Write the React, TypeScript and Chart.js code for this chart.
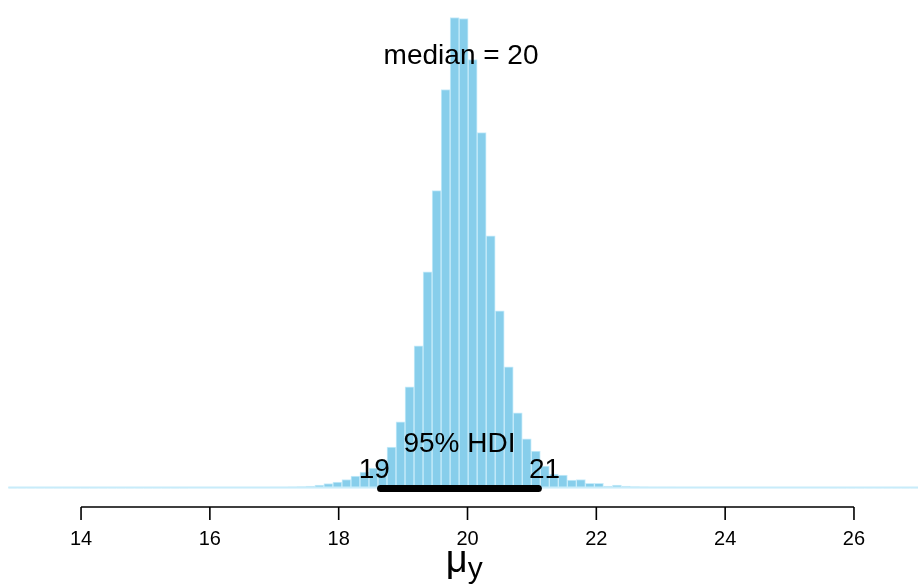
import { useEffect, useRef } from "react";
import { Chart, registerables } from "chart.js";

Chart.register(...registerables);

// Histogram of posterior samples of mu_y (density per bin)
const binStart = 12.87;
const binWidth = 0.14;
const density = [
  0.0005, 0.0005, 0.0005, 0.0005, 0.0005, 0.0005, 0.0005, 0.0005, 0.0005, 0.0005,
  0.0007, 0.0007, 0.0007, 0.0007, 0.0007, 0.0007, 0.0007, 0.0007, 0.0007, 0.0007,
  0.0009, 0.0009, 0.0009, 0.0009, 0.0009, 0.0009,
  0.0013, 0.0013, 0.0013,
  0.0016, 0.0018, 0.0022, 0.0027, 0.0036, 0.0055, 0.0082, 0.0109, 0.0155, 0.0218,
  0.0291, 0.0364, 0.051, 0.0746, 0.1201, 0.1838, 0.2584, 0.3931, 0.5405, 0.7244,
  0.8554, 0.8536, 0.779, 0.6461, 0.4586, 0.3221, 0.2202, 0.1365, 0.0892, 0.0673,
  0.04, 0.0255, 0.0237, 0.0146, 0.0155, 0.0086, 0.0086, 0.0036, 0.0055, 0.0036,
  0.0027, 0.0022, 0.0018, 0.0016, 0.0015, 0.0013,
  0.0011, 0.0011, 0.0011, 0.0011, 0.0011, 0.0011,
  0.0009, 0.0009, 0.0009, 0.0009, 0.0009, 0.0009, 0.0009, 0.0009, 0.0009, 0.0009,
  0.0007, 0.0007, 0.0007, 0.0007, 0.0007, 0.0007, 0.0007, 0.0007, 0.0007, 0.0007, 0.0007,
];
const xTicks = [14, 16, 18, 20, 22, 24, 26];
const xRange = [12.866, 26.994];
const hdi = [18.65, 21.1];
const credMass = 95;
const medianValue = 19.9;

const FONT = '"Liberation Sans", Arial, Helvetica, sans-serif';

const annotPlugin = {
  id: "annot",
  afterDraw(chart: any) {
    const ctx = chart.ctx as CanvasRenderingContext2D;
    const xs = chart.scales.x;
    const ys = chart.scales.y;
    const y0 = ys.getPixelForValue(0);
    ctx.save();

    // baseline of histogram
    const bx0 = xs.getPixelForValue(binStart);
    const bx1 = xs.getPixelForValue(binStart + binWidth * density.length);
    ctx.strokeStyle = "#C8ECFA";
    ctx.lineWidth = 2;
    ctx.beginPath();
    ctx.moveTo(bx0, y0 - 0.5);
    ctx.lineTo(bx1, y0 - 0.5);
    ctx.stroke();

    // HDI bar
    const h0 = xs.getPixelForValue(hdi[0]);
    const h1 = xs.getPixelForValue(hdi[1]);
    ctx.strokeStyle = "#000";
    ctx.lineWidth = 7;
    ctx.lineCap = "round";
    ctx.beginPath();
    ctx.moveTo(h0, y0 + 0.5);
    ctx.lineTo(h1, y0 + 0.5);
    ctx.stroke();

    ctx.fillStyle = "#000";
    ctx.textBaseline = "alphabetic";
    ctx.font = `28px ${FONT}`;
    ctx.textAlign = "center";
    ctx.fillText(`${credMass}% HDI`, (h0 + h1) / 2, y0 - 36);
    const lo = String(Number(hdi[0].toPrecision(2)));
    const hi = String(Number(hdi[1].toPrecision(2)));
    ctx.textAlign = "left";
    const wlo = ctx.measureText(lo).width;
    const whi = ctx.measureText(hi).width;
    ctx.fillText(lo, h0 - 0.7 * wlo, y0 - 10);
    ctx.fillText(hi, h1 - 0.3 * whi, y0 - 10);

    // median label
    ctx.textAlign = "center";
    const mx = xs.getPixelForValue(medianValue);
    ctx.fillText(`median = ${Number(medianValue.toPrecision(2))}`, mx, 63.5);

    // x axis (R style)
    const axY = 507;
    const a0 = xs.getPixelForValue(xTicks[0]);
    const a1 = xs.getPixelForValue(xTicks[xTicks.length - 1]);
    ctx.strokeStyle = "#000";
    ctx.lineWidth = 1.6;
    ctx.lineCap = "butt";
    ctx.beginPath();
    ctx.moveTo(a0, axY);
    ctx.lineTo(a1, axY);
    for (const t of xTicks) {
      const px = xs.getPixelForValue(t);
      ctx.moveTo(px, axY);
      ctx.lineTo(px, axY + 13);
    }
    ctx.stroke();
    ctx.font = `20px ${FONT}`;
    ctx.textAlign = "center";
    for (const t of xTicks) {
      ctx.fillText(String(t), xs.getPixelForValue(t), 545);
    }

    // axis title mu_y
    ctx.textAlign = "left";
    ctx.font = `38px ${FONT}`;
    const wm = ctx.measureText("\u03bc").width;
    ctx.font = `30px ${FONT}`;
    const wy = ctx.measureText("y").width;
    const cx = xs.getPixelForValue(19.95);
    const start = cx - (wm + wy) / 2;
    ctx.font = `38px ${FONT}`;
    ctx.fillText("\u03bc", start, 572);
    ctx.font = `30px ${FONT}`;
    ctx.fillText("y", start + wm, 578);

    ctx.restore();
  },
};

export default function App() {
  const ref = useRef<HTMLCanvasElement | null>(null);
  useEffect(() => {
    if (!ref.current) return;
    const points = density.map((d, i) => ({ x: binStart + binWidth * (i + 0.5), y: d }));
    const chart = new Chart(ref.current, {
      type: "bar",
      data: {
        datasets: [
          {
            data: points as any,
            backgroundColor: "#87CEEB",
            borderColor: "#C8ECFA",
            borderWidth: 1,
            borderSkipped: false,
            barPercentage: 1,
            categoryPercentage: 1,
            clip: false as any,
          },
        ],
      },
      options: {
        animation: false,
        responsive: false,
        devicePixelRatio: 1,
        events: [],
        layout: { padding: { left: 8, right: 0, top: 10, bottom: 98 } },
        plugins: { legend: { display: false }, tooltip: { enabled: false } },
        scales: {
          x: { type: "linear", min: xRange[0], max: xRange[1], offset: false, display: false },
          y: { min: 0, max: 0.869, display: false },
        },
      },
      plugins: [annotPlugin],
    });
    return () => chart.destroy();
  }, []);
  return (
    <div style={{ position: "fixed", left: 0, top: 0, width: 918, height: 586, background: "#fff" }}>
      <canvas ref={ref} width={918} height={586} style={{ width: 918, height: 586 }} />
    </div>
  );
}
